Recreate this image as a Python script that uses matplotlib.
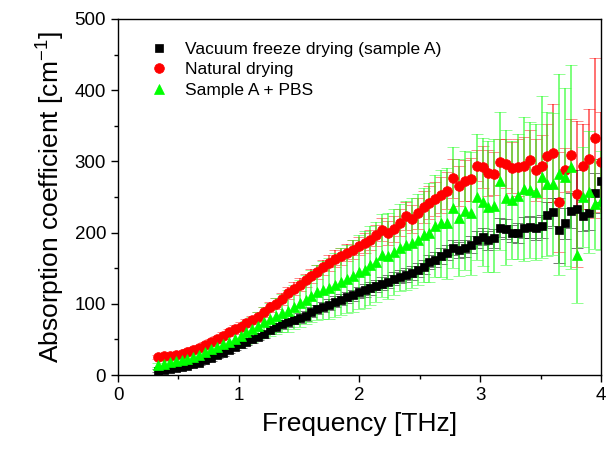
import numpy as np
import matplotlib
matplotlib.use('Agg')
import matplotlib.pyplot as plt
from matplotlib.ticker import MultipleLocator

# frequency grid [THz]
freq = [0.330, 0.379, 0.428, 0.477, 0.526, 0.575, 0.623, 0.672, 0.721, 0.770,
        0.819, 0.868, 0.917, 0.966, 1.015, 1.064, 1.112, 1.161, 1.210, 1.259,
        1.308, 1.357, 1.406, 1.455, 1.504, 1.553, 1.601, 1.650, 1.699, 1.748,
        1.797, 1.846, 1.895, 1.944, 1.993, 2.042, 2.090, 2.139, 2.188, 2.237,
        2.286, 2.335, 2.384, 2.433, 2.482, 2.531, 2.579, 2.628, 2.677, 2.726,
        2.775, 2.824, 2.873, 2.922, 2.971, 3.020, 3.068, 3.117, 3.166, 3.215,
        3.264, 3.313, 3.362, 3.411, 3.460, 3.509, 3.557, 3.606, 3.655, 3.704,
        3.753, 3.802, 3.851, 3.900, 3.949, 3.998]

# vacuum freeze drying (sample A)
vac = [6, 7, 8, 10, 11, 13, 15, 17, 21, 24,
       28, 31, 35, 39, 43, 47, 50, 54, 57, 63,
       67, 71, 74, 77, 80, 83, 89, 92, 96, 99,
       103, 106, 109, 112, 116, 119, 122, 125, 128, 131,
       135, 138, 140, 143, 147, 152, 159, 162, 167, 172,
       179, 176, 178, 183, 190, 194, 189, 192, 207, 205,
       199, 200, 207, 208, 206, 209, 225, 229, 203, 213,
       231, 233, 224, 227, 256, 273]
vac_err = [2, 2, 2, 2, 3, 3, 3, 3, 3, 4,
           4, 4, 4, 4, 5, 5, 5, 5, 5, 6,
           6, 6, 6, 6, 7, 7, 7, 7, 7, 8,
           8, 8, 8, 8, 8, 9, 9, 9, 9, 9,
           9, 9, 10, 10, 10, 10, 10, 11, 11, 11,
           11, 11, 12, 12, 12, 12, 13, 13, 13, 14,
           12, 14, 15, 15, 16, 16, 18, 20, 45, 22,
           25, 55, 22, 24, 28, 30]

# natural drying
nat = [25, 26, 27, 28, 29, 32, 35, 38, 42, 46,
       50, 55, 60, 64, 68, 73, 77, 82, 88, 95,
       100, 107, 115, 121, 127, 133, 139, 145, 151, 157,
       163, 167, 172, 176, 181, 185, 190, 196, 204, 199,
       205, 214, 223, 219, 227, 236, 242, 247, 253, 259,
       276, 265, 273, 275, 294, 292, 284, 283, 299, 297,
       291, 292, 294, 302, 288, 293, 307, 312, 243, 288,
       309, 254, 293, 303, 333, 299]
nat_err = [3, 3, 3, 3, 3, 4, 4, 4, 4, 5,
           5, 5, 5, 6, 6, 6, 6, 7, 7, 7,
           8, 8, 8, 9, 9, 9, 10, 10, 11, 11,
           12, 12, 12, 13, 13, 14, 14, 15, 16, 17,
           18, 19, 20, 20, 22, 22, 23, 24, 25, 26,
           28, 28, 29, 30, 22, 30, 32, 30, 32, 34,
           36, 40, 40, 42, 44, 44, 46, 69, 70, 31,
           50, 103, 60, 70, 112, 70]

# sample A + PBS
pbs = [14, 16, 18, 20, 21, 23, 25, 28, 32, 36,
       40, 43, 47, 51, 55, 60, 64, 69, 74, 78,
       83, 87, 90, 96, 101, 106, 111, 116, 119, 122,
       126, 131, 135, 139, 144, 148, 154, 159, 168, 167,
       173, 179, 182, 185, 190, 196, 200, 209, 213, 213,
       235, 221, 231, 227, 250, 243, 236, 238, 273, 249,
       246, 251, 261, 260, 257, 278, 268, 268, 282, 278,
       292, 168, 250, 257, 240, 245]
pbs_err = [3, 4, 4, 5, 5, 6, 6, 7, 8, 9,
           10, 11, 12, 13, 14, 16, 17, 19, 21, 23,
           25, 27, 29, 31, 33, 35, 37, 39, 41, 43,
           45, 47, 48, 50, 52, 54, 55, 56, 58, 60,
           60, 61, 62, 63, 64, 66, 70, 72, 75, 78,
           85, 82, 84, 86, 88, 90, 92, 94, 97, 95,
           83, 88, 101, 95, 95, 114, 101, 100, 141, 125,
           143, 67, 70, 86, 63, 70]

plt.rcParams['font.family'] = ['Liberation Sans', 'DejaVu Sans']
plt.rcParams['mathtext.fontset'] = 'custom'
plt.rcParams['mathtext.rm'] = 'Liberation Sans'

fig = plt.figure(figsize=(6.13, 4.49), dpi=100)
ax = fig.add_axes([0.1925, 0.1648, 0.7879, 0.7929])

series = [
    (vac, vac_err, 's', 'black', (0, 0, 0, 0.75), 5.5, 'Vacuum freeze drying (sample A)'),
    (nat, nat_err, 'o', 'red', (1, 0, 0, 0.65), 7, 'Natural drying'),
    (pbs, pbs_err, '^', '#00ff00', (0.2, 1, 0.2, 0.75), 7.5, 'Sample A + PBS'),
]
handles = []
for vals, errs, mk, col, ecol, ms, lab in series:
    c = ax.errorbar(freq, vals, yerr=errs, fmt=mk, color=col, ecolor=ecol,
                    markersize=ms, mec=col, mew=0.5, elinewidth=1.2,
                    capsize=4, capthick=1.2, label=lab)
    handles.append(c[0])

ax.set_xlim(0, 4)
ax.set_ylim(0, 500)
ax.xaxis.set_major_locator(MultipleLocator(1))
ax.xaxis.set_minor_locator(MultipleLocator(0.5))
ax.yaxis.set_major_locator(MultipleLocator(100))
ax.yaxis.set_minor_locator(MultipleLocator(50))
ax.tick_params(which='both', direction='out', top=False, right=False, labelsize=13.5)
ax.tick_params(which='major', length=5, width=1)
ax.tick_params(which='minor', length=3, width=1)
for s in ax.spines.values():
    s.set_linewidth(1)

ax.set_xlabel('Frequency [THz]', fontsize=19, labelpad=6)
ax.set_ylabel('Absorption coefficient [cm$^{-1}$]', fontsize=19, labelpad=6)

ax.legend(handles=handles, labels=[s[6] for s in series], loc='upper left',
          bbox_to_anchor=(0.03, 0.98), frameon=False, fontsize=12.5,
          handletextpad=0.9, labelspacing=0.3, handlelength=1.2)

fig.savefig('out.png', dpi=100)
